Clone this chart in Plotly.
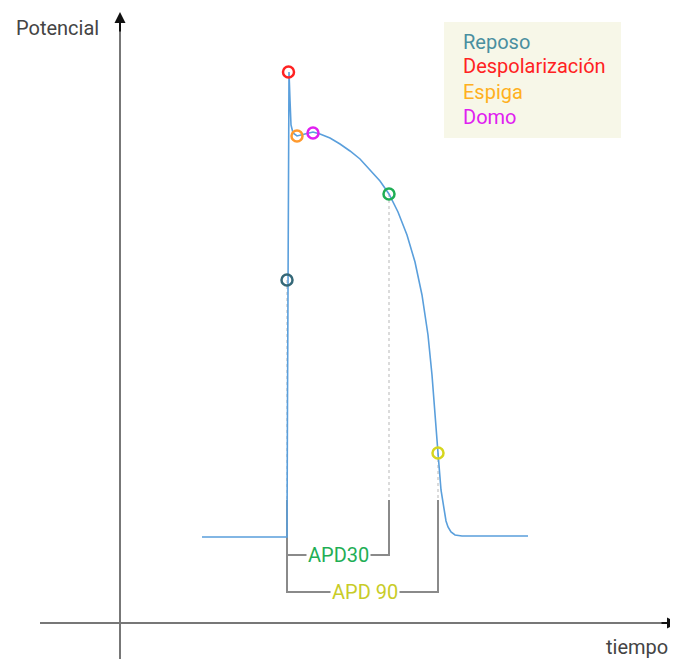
import plotly.graph_objects as go

# Action potential trace (time, potential) in arbitrary units
t_ap = [82, 167, 167.5, 168, 168.5, 169, 170, 171, 173, 177, 185, 193, 200, 210, 220, 230, 240, 250,
        260, 269, 278, 287, 295, 302, 308, 312, 315, 318, 321, 324, 326, 328, 331, 335, 342, 350, 408]
v_ap = [86, 86, 223, 343, 473, 551, 523, 498, 490, 487, 489, 491, 489, 485, 479, 472, 464, 453,
        442, 429, 411, 388, 361, 328, 288, 248, 213, 170, 133, 112, 102, 96, 91, 88, 87, 87, 87]

# Key points
pt_names = ["Reposo", "Despolarización", "Espiga", "Domo", "APD30", "APD90"]
pt_t = [167, 168.5, 177, 193, 269, 318]
pt_v = [343, 551, 487, 490, 429, 170]
pt_colors = ["#356878", "#ff2222", "#ff9a2e", "#e020f0", "#1fae55", "#d6d61e"]

legend_labels = ["Reposo", "Despolarización", "Espiga", "Domo"]
legend_colors = ["#4a8fa0", "#ff2222", "#ffb020", "#e020f0"]

bracket_base = 123
apd30_level = 68
apd90_level = 31
apd_start = 167
apd30_end = 269
apd90_end = 318

FONT = "Roboto"
FS = 20

fig = go.Figure()

# dotted drop lines
for tt, vv in [(pt_t[0], pt_v[0]), (pt_t[4], pt_v[4]), (pt_t[5], pt_v[5])]:
    fig.add_trace(go.Scatter(x=[tt, tt], y=[vv, bracket_base], mode="lines",
                             line=dict(color="#cfcfcf", width=1.5, dash="dot"),
                             hoverinfo="skip", showlegend=False))

# brackets
fig.add_trace(go.Scatter(x=[apd_start, apd_start, apd30_end, apd30_end],
                         y=[bracket_base, apd30_level, apd30_level, bracket_base],
                         mode="lines", line=dict(color="#8a8a8a", width=2), showlegend=False))
fig.add_trace(go.Scatter(x=[apd_start, apd_start, apd90_end, apd90_end],
                         y=[bracket_base, apd90_level, apd90_level, bracket_base],
                         mode="lines", line=dict(color="#8a8a8a", width=2), showlegend=False))

# AP curve
fig.add_trace(go.Scatter(x=t_ap, y=v_ap, mode="lines",
                         line=dict(color="#5a9fdc", width=1.6),
                         showlegend=False))

# markers
fig.add_trace(go.Scatter(x=pt_t, y=pt_v, mode="markers",
                         marker=dict(symbol="circle-open", size=11,
                                     line=dict(width=2.5), color=pt_colors),
                         text=pt_names, showlegend=False))

# legend box
fig.add_shape(type="rect", x0=324, x1=501, y0=485, y1=601,
              fillcolor="#f7f7e8", line=dict(width=0), layer="below")
for i, (lab, col) in enumerate(zip(legend_labels, legend_colors)):
    fig.add_annotation(x=341, y=[581, 557, 531, 506][i], text=lab, showarrow=False,
                       xanchor="left", font=dict(family=FONT, size=FS, color=col))

# APD labels
fig.add_annotation(x=(apd_start + apd30_end) / 2, y=apd30_level, text="APD30", showarrow=False,
                   bgcolor="white", font=dict(family=FONT, size=FS, color="#1fae55"))
fig.add_annotation(x=(apd_start + apd90_end) / 2 + 2, y=apd90_level, text="APD 90", showarrow=False,
                   bgcolor="white", font=dict(family=FONT, size=FS, color="#c8cc28"))

# axes lines with arrows
fig.add_shape(type="line", x0=-80, x1=552, y0=0, y1=0, line=dict(color="#777", width=2))
fig.add_shape(type="line", x0=0, x1=0, y0=-36, y1=600, line=dict(color="#777", width=2))
fig.add_annotation(x=0, y=611, ax=0, ay=590, xref="x", yref="y", axref="x", ayref="y",
                   showarrow=True, arrowhead=2, arrowsize=1.1, arrowwidth=2, arrowcolor="#111", text="")
fig.add_annotation(x=558, y=0, ax=540, ay=0, xref="x", yref="y", axref="x", ayref="y",
                   showarrow=True, arrowhead=2, arrowsize=1.1, arrowwidth=2, arrowcolor="#111", text="")

fig.add_annotation(x=-63, y=595, text="Potencial", showarrow=False,
                   font=dict(family=FONT, size=FS, color="#444"))
fig.add_annotation(x=517, y=-24, text="tiempo", showarrow=False,
                   font=dict(family=FONT, size=FS, color="#444"))

# The page body has an 8px margin, so the figure is placed at (8, 8)
fig.update_layout(width=670, height=651, margin=dict(l=0, r=0, t=0, b=0),
                  plot_bgcolor="white", paper_bgcolor="white",
                  xaxis=dict(range=[-112, 558], visible=False, fixedrange=True),
                  yaxis=dict(range=[-36, 615], visible=False, fixedrange=True),
                  showlegend=False)

fig.write_html("out.html")
